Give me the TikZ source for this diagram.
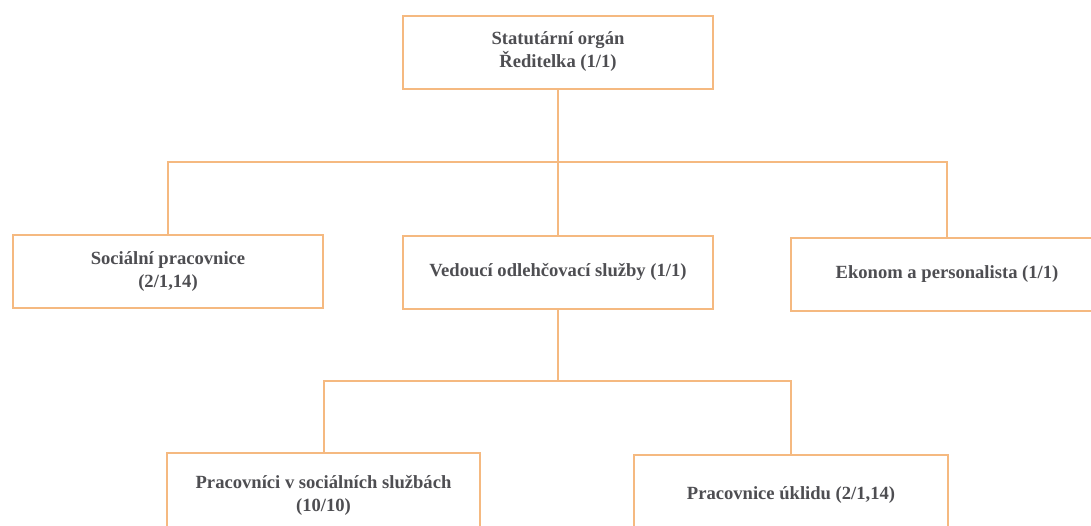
\documentclass[tikz,border=0pt]{standalone}
\usepackage{fontspec}
\setmainfont{Liberation Serif}
\definecolor{boxline}{RGB}{245,185,128}
\definecolor{txt}{RGB}{78,78,82}
\begin{document}
\begin{tikzpicture}[x=1pt,y=-1pt,
  box/.style={draw=boxline, line width=2pt, fill=white, inner sep=0pt,
    minimum width=310pt, minimum height=73pt, align=center,
    font=\bfseries\fontsize{18.6}{23}\selectfont, text=txt},
  link/.style={draw=boxline, line width=2pt}]
\useasboundingbox (0,0) rectangle (1091,525);
\clip (0,0) rectangle (1091,525);
\fill[white] (0,0) rectangle (1091,525);
\node[box] (top) at (558,52) {Statutární orgán\\Ředitelka (1/1)};
\node[box] (soc) at (168,271.5) {Sociální pracovnice\\(2/1,14)};
\node[box] (ved) at (558,272) {Vedoucí odlehčovací služby (1/1)};
\node[box, minimum width=312pt] (eko) at (947,274) {Ekonom a personalista (1/1)};
\node[box, minimum width=313pt, minimum height=84pt] (prac) at (323.5,495) {Pracovníci v sociálních službách\\(10/10)};
\node[box, minimum width=314pt, minimum height=80pt] (ukl) at (791,495) {Pracovnice úklidu (2/1,14)};
\coordinate (bus1) at (558,162);
\coordinate (bus2) at (558,381);
\draw[link] (top.south) -- (bus1);
\draw[link] (soc.north) |- (bus1) -| (eko.north);
\draw[link] (bus1) -- (ved.north);
\draw[link] (ved.south) -- (bus2);
\draw[link] (prac.north) |- (bus2) -| (ukl.north);
\end{tikzpicture}
\end{document}
